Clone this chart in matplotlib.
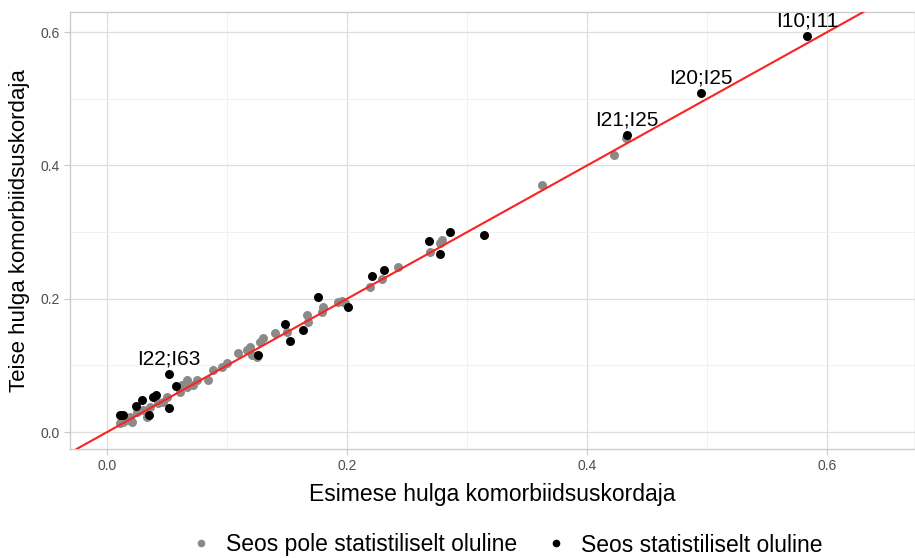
import matplotlib
matplotlib.use("Agg")
import matplotlib.pyplot as plt
from matplotlib.lines import Line2D

# pole statistiliselt oluline (hall)
gray_x = [0.362, 0.422, 0.4325, 0.2775, 0.279, 0.269, 0.242, 0.229, 0.219, 0.198,
          0.196, 0.192, 0.180, 0.179, 0.1675, 0.1667, 0.150, 0.140, 0.130, 0.1275,
          0.119, 0.1167, 0.121, 0.125, 0.109, 0.100, 0.096, 0.088, 0.084, 0.075,
          0.0717, 0.0667, 0.0625, 0.0667, 0.061, 0.050, 0.0467, 0.0425, 0.036, 0.030,
          0.025, 0.019, 0.0133, 0.011, 0.021, 0.033, 0.0167]
gray_y = [0.370, 0.415, 0.441, 0.2835, 0.288, 0.270, 0.2475, 0.2295, 0.2175, 0.1935,
          0.1965, 0.195, 0.1875, 0.180, 0.165, 0.1755, 0.150, 0.1485, 0.141, 0.135,
          0.1275, 0.123, 0.1155, 0.1125, 0.1185, 0.1035, 0.0975, 0.093, 0.078, 0.078,
          0.0705, 0.078, 0.0705, 0.0675, 0.060, 0.0525, 0.045, 0.0435, 0.0375, 0.033,
          0.030, 0.0225, 0.015, 0.0135, 0.015, 0.0225, 0.018]

# statistiliselt oluline (must)
black_x = [0.5833, 0.495, 0.4333, 0.314, 0.286, 0.268, 0.2775, 0.231, 0.221, 0.201,
           0.176, 0.163, 0.148, 0.1525, 0.126, 0.0517, 0.0575, 0.041, 0.038, 0.029,
           0.024, 0.0517, 0.035, 0.011, 0.0133]
black_y = [0.594, 0.5085, 0.4455, 0.2955, 0.300, 0.2865, 0.267, 0.243, 0.234, 0.1875,
           0.2025, 0.153, 0.162, 0.1365, 0.1155, 0.087, 0.069, 0.0555, 0.0525, 0.048,
           0.039, 0.036, 0.0255, 0.0255, 0.0255]

labels = ["I10;I11", "I20;I25", "I21;I25", "I22;I63"]
label_x = [0.5833, 0.495, 0.4333, 0.0517]
label_y = [0.594, 0.5085, 0.4455, 0.087]

plt.rcParams["font.family"] = ["Liberation Sans", "DejaVu Sans"]

fig = plt.figure(figsize=(9.15, 5.58), dpi=100)
ax = fig.add_axes([70 / 915, 109 / 558, 845 / 915, 437 / 558])

ax.set_xlim(-0.031, 0.673)
ax.set_ylim(-0.0255, 0.63)
ax.set_xticks([0.0, 0.2, 0.4, 0.6])
ax.set_yticks([0.0, 0.2, 0.4, 0.6])
ax.set_xticks([0.1, 0.3, 0.5], minor=True)
ax.set_yticks([0.1, 0.3, 0.5], minor=True)
ax.grid(which="major", color="#DEDEDE", linewidth=0.9)
ax.grid(which="minor", color="#EFEFEF", linewidth=0.6)
ax.set_axisbelow(True)
for s in ax.spines.values():
    s.set_color("#CCCCCC")
    s.set_linewidth(1.0)
ax.tick_params(which="major", colors="#C8C8C8", labelcolor="#4D4D4D",
               labelsize=10, length=4)
ax.tick_params(which="minor", length=0)

ax.scatter(gray_x, gray_y, s=42, color="#8A8A8A", linewidths=0, zorder=3)
ax.scatter(black_x, black_y, s=42, color="black", linewidths=0, zorder=4)
ax.axline((0, 0), slope=1, color="#FF2020", linewidth=1.5, zorder=5)

for t, x, y in zip(labels, label_x, label_y):
    ax.annotate(t, (x, y), xytext=(0, 4), textcoords="offset points",
                ha="center", va="bottom", fontsize=15, color="black", zorder=6)

ax.set_xlabel("Esimese hulga komorbiidsuskordaja", fontsize=16.5, labelpad=7)
ax.set_ylabel("Teise hulga komorbiidsuskordaja", fontsize=16, labelpad=7)

handles = [Line2D([], [], marker="o", linestyle="", color="#8A8A8A", markersize=4.5),
           Line2D([], [], marker="o", linestyle="", color="black", markersize=4.5)]
fig.legend(handles, ["Seos pole statistiliselt oluline", "Seos statistiliselt oluline"],
           loc="center", bbox_to_anchor=(0.553, 13 / 558), ncol=2, frameon=False,
           fontsize=16.5, handlelength=1.0, handletextpad=0.6, columnspacing=1.2)

fig.savefig("out.png", dpi=100)
